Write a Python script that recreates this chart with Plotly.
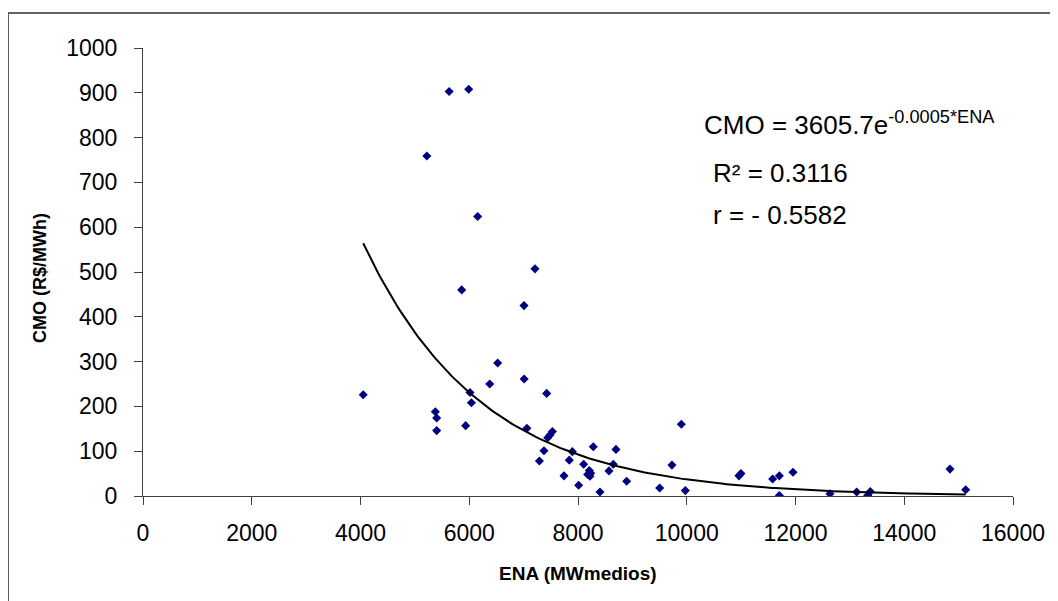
import numpy as np
import plotly.graph_objects as go

# ---- data ----
ena = [4050, 5220, 5630, 5990, 6155, 7209, 5861, 7007, 6523, 7010,
       5376, 5401, 5401, 5934, 6014, 6040, 6376, 7060, 7290, 7424,
       7374, 7443, 7486, 7529, 7742, 7840, 7896, 8012, 8104, 8208,
       8233, 8178, 8220, 8281, 8404, 8570, 8649, 8698, 8895, 9502,
       9728, 9900, 9974, 10960, 10997, 11580, 11703, 11703, 11954, 12634,
       13125, 13327, 13375, 14841, 15130]
cmo = [226, 759, 903, 908, 624, 507, 460, 425, 297, 261,
       188, 174, 146, 157, 231, 208, 250, 151, 78, 229,
       101, 130, 136, 144, 45, 80, 99, 24, 71, 57,
       51, 48, 44, 110, 9, 56, 71, 104, 33, 18,
       69, 160, 12, 45, 50, 38, 45, 1, 53, 5,
       9, 1, 10, 60, 14]

# exponential trendline parameters (Excel fit)
fit_a = 3605.7
fit_b = 0.000458

x_ticks = [0, 2000, 4000, 6000, 8000, 10000, 12000, 14000, 16000]
y_ticks = [0, 100, 200, 300, 400, 500, 600, 700, 800, 900, 1000]

eq_text = "CMO = 3605.7e<sup>-0.0005*ENA</sup>"
r2_text = "R² = 0.3116"
r_text = "r = - 0.5582"

FONT = "Liberation Sans, Arial, sans-serif"

trend_x = np.linspace(min(ena), max(ena), 200)
trend_y = fit_a * np.exp(-fit_b * trend_x)

fig = go.Figure()
fig.add_trace(go.Scatter(
    x=ena, y=cmo, mode="markers",
    marker=dict(symbol="diamond", size=7, color="#000080",
                line=dict(width=0)),
    showlegend=False, hoverinfo="x+y"))
fig.add_trace(go.Scatter(
    x=trend_x, y=trend_y, mode="lines",
    line=dict(color="black", width=2),
    showlegend=False, hoverinfo="skip"))

# the page body adds an 8px offset; the figure is sized to compensate
OFF = 8
W, H = 1058 - OFF, 601 - OFF
ml, mr, mt, mb = 143 - OFF, 45, 48 - OFF, 105
pw, ph = W - ml - mr, H - mt - mb


def px_x(px):
    return (px - OFF - ml) / pw


def px_y(py):
    return (H - mb - (py - OFF)) / ph


axis_common = dict(
    showgrid=False, zeroline=False, showline=True, linecolor="#404040",
    linewidth=1, ticks="outside", ticklen=8, tickcolor="#404040",
    tickwidth=1, tickfont=dict(family=FONT, size=23, color="black"),
)

fig.update_layout(
    width=W, height=H, autosize=False,
    margin=dict(l=ml, r=mr, t=mt, b=mb, pad=0),
    paper_bgcolor="white", plot_bgcolor="white",
    font=dict(family=FONT, color="black"),
    xaxis=dict(range=[0, 16000], tickvals=x_ticks,
               ticktext=[str(v) for v in x_ticks],
               ticklabelstandoff=8, **axis_common),
    yaxis=dict(range=[0, 1000], tickvals=y_ticks,
               ticktext=[str(v) for v in y_ticks],
               ticklabelstandoff=12, **axis_common),
    shapes=[dict(type="rect", xref="paper", yref="paper",
                 x0=px_x(8), x1=px_x(1058 + 20), y0=px_y(601 + 20), y1=px_y(13),
                 line=dict(color="#303030", width=1.5),
                 fillcolor="rgba(0,0,0,0)", layer="above")],
    annotations=[
        dict(text="<b>ENA (MWmedios)</b>", xref="paper", yref="paper",
             x=px_x(578), y=px_y(573), xanchor="center", yanchor="middle",
             showarrow=False, font=dict(family=FONT, size=19)),
        dict(text="<b>CMO (R$/MWh)</b>", xref="paper", yref="paper",
             x=px_x(40), y=px_y(278), xanchor="center", yanchor="middle",
             textangle=-90, showarrow=False, font=dict(family=FONT, size=18)),
        dict(text=eq_text, xref="paper", yref="paper",
             x=px_x(702), y=px_y(124), xanchor="left", yanchor="middle",
             showarrow=False, font=dict(family=FONT, size=26)),
        dict(text=r2_text, xref="paper", yref="paper",
             x=px_x(711), y=px_y(173), xanchor="left", yanchor="middle",
             showarrow=False, font=dict(family=FONT, size=26)),
        dict(text=r_text, xref="paper", yref="paper",
             x=px_x(711), y=px_y(215), xanchor="left", yanchor="middle",
             showarrow=False, font=dict(family=FONT, size=26)),
    ],
)

fig.write_html("out.html",
               config=dict(displayModeBar=False, responsive=False))
